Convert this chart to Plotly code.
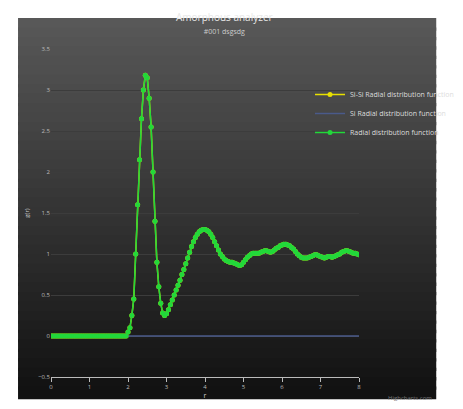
import numpy as np
import plotly.graph_objects as go

# g(r), r step 0.05 from 0 to 8
g_rise = [0.05, 0.1, 0.25, 0.45, 1.0, 1.6, 2.15, 2.65, 3.0, 3.18, 3.15, 2.9, 2.55, 2.0, 1.4,
          0.9, 0.6, 0.4, 0.28, 0.25, 0.27, 0.32, 0.38, 0.44, 0.5]
g_tail = [0.56, 0.62, 0.68, 0.75, 0.81, 0.88, 0.95, 1.02, 1.09, 1.15, 1.2, 1.24, 1.27, 1.29, 1.3,
          1.3, 1.29, 1.27, 1.24, 1.2, 1.15, 1.1, 1.05, 1.0, 0.97, 0.94, 0.92, 0.91, 0.9, 0.9,
          0.89, 0.88, 0.87, 0.86, 0.87, 0.9, 0.93, 0.96, 0.98, 1.0, 1.01, 1.01, 1.01, 1.01, 1.02,
          1.03, 1.04, 1.04, 1.03, 1.02, 1.03, 1.05, 1.07, 1.08, 1.1, 1.11, 1.12, 1.12, 1.11, 1.1,
          1.08, 1.06, 1.03, 1.0, 0.98, 0.96, 0.95, 0.95, 0.95, 0.96, 0.97, 0.98, 0.99, 0.99, 0.98,
          0.97, 0.96, 0.95, 0.96, 0.97, 0.97, 0.96, 0.97, 0.98, 0.99, 1.0, 1.02, 1.03, 1.04, 1.04,
          1.03, 1.02, 1.01, 1.01, 1.0, 0.99]
g = [0.0] * 40 + g_rise + g_tail
r = np.round(np.arange(len(g)) * 0.05, 2)
si = [0.0] * len(g)

W, H = 463, 409
L, R, T, B = 43, 370, 41, 369   # plot area in pixels


def px(xp):
    return (xp - L) / (R - L)


def py(yp):
    return (B - yp) / (B - T)


fig = go.Figure()

# dark gradient background made of bands (paper coords are the plot area)
n = 40
bx0, bx1 = px(8), px(452)
by_top, by_bot = py(10), py(388)
for i in range(n):
    c = int(88 - (88 - 18) * i / (n - 1))
    fig.add_shape(type="rect", xref="paper", yref="paper", layer="below",
                  x0=bx0, x1=bx1,
                  y0=by_top - (by_top - by_bot) * (i + 1) / n - 0.01,
                  y1=by_top - (by_top - by_bot) * i / n,
                  fillcolor=f"rgb({c},{c},{c})", line_width=0)

fig.add_trace(go.Scatter(x=r, y=g, name="Si-Si Radial distribution function", mode="lines+markers",
                         line=dict(color="#e8e000", width=1.5), marker=dict(size=5, color="#e8e000")))
fig.add_trace(go.Scatter(x=r, y=si, name="Si Radial distribution function", mode="lines",
                         line=dict(color="#4a5a8a", width=1.5)))
fig.add_trace(go.Scatter(x=r, y=g, name="Radial distribution function", mode="lines+markers",
                         line=dict(color="#22d83a", width=1.5), marker=dict(size=5, color="#22d83a")))

fig.update_layout(
    width=W, height=H, paper_bgcolor="white", plot_bgcolor="rgba(0,0,0,0)",
    margin=dict(l=L, r=W - R, t=T, b=H - B),
    font=dict(family="Open Sans", color="#bbbbbb", size=6),
    title=dict(text="Amorphous analyzer<br><span style='font-size:7px;color:#cccccc'>#001 dsgsdg</span>",
               x=px(227), xref="paper", xanchor="center", yref="container", y=1 - 13 / H,
               yanchor="top", font=dict(size=10, color="#e8e8e8")),
    legend=dict(x=px(318), y=py(72), xanchor="left", yanchor="top", bgcolor="rgba(0,0,0,0)",
                font=dict(size=7, color="#dddddd"), itemwidth=30, tracegroupgap=0),
    showlegend=True,
)
fig.update_xaxes(range=[0, 8], dtick=1, showgrid=False, zeroline=False, showline=True,
                 linecolor="#bbbbbb", ticks="outside", tickcolor="#bbbbbb", ticklen=4,
                 title=dict(text="r", font=dict(size=7, color="#cccccc"), standoff=2))
fig.update_yaxes(range=[-0.5, 3.5], dtick=0.5, showgrid=True, gridcolor="#3c3c3c", zeroline=False,
                 title=dict(text="g(r)", font=dict(size=6, color="#cccccc"), standoff=8))
fig.add_annotation(text="Highcharts.com", xref="paper", yref="paper", x=px(450), y=py(396),
                   showarrow=False, font=dict(size=6, color="#777777"), xanchor="right")
fig.write_html("out.html")
